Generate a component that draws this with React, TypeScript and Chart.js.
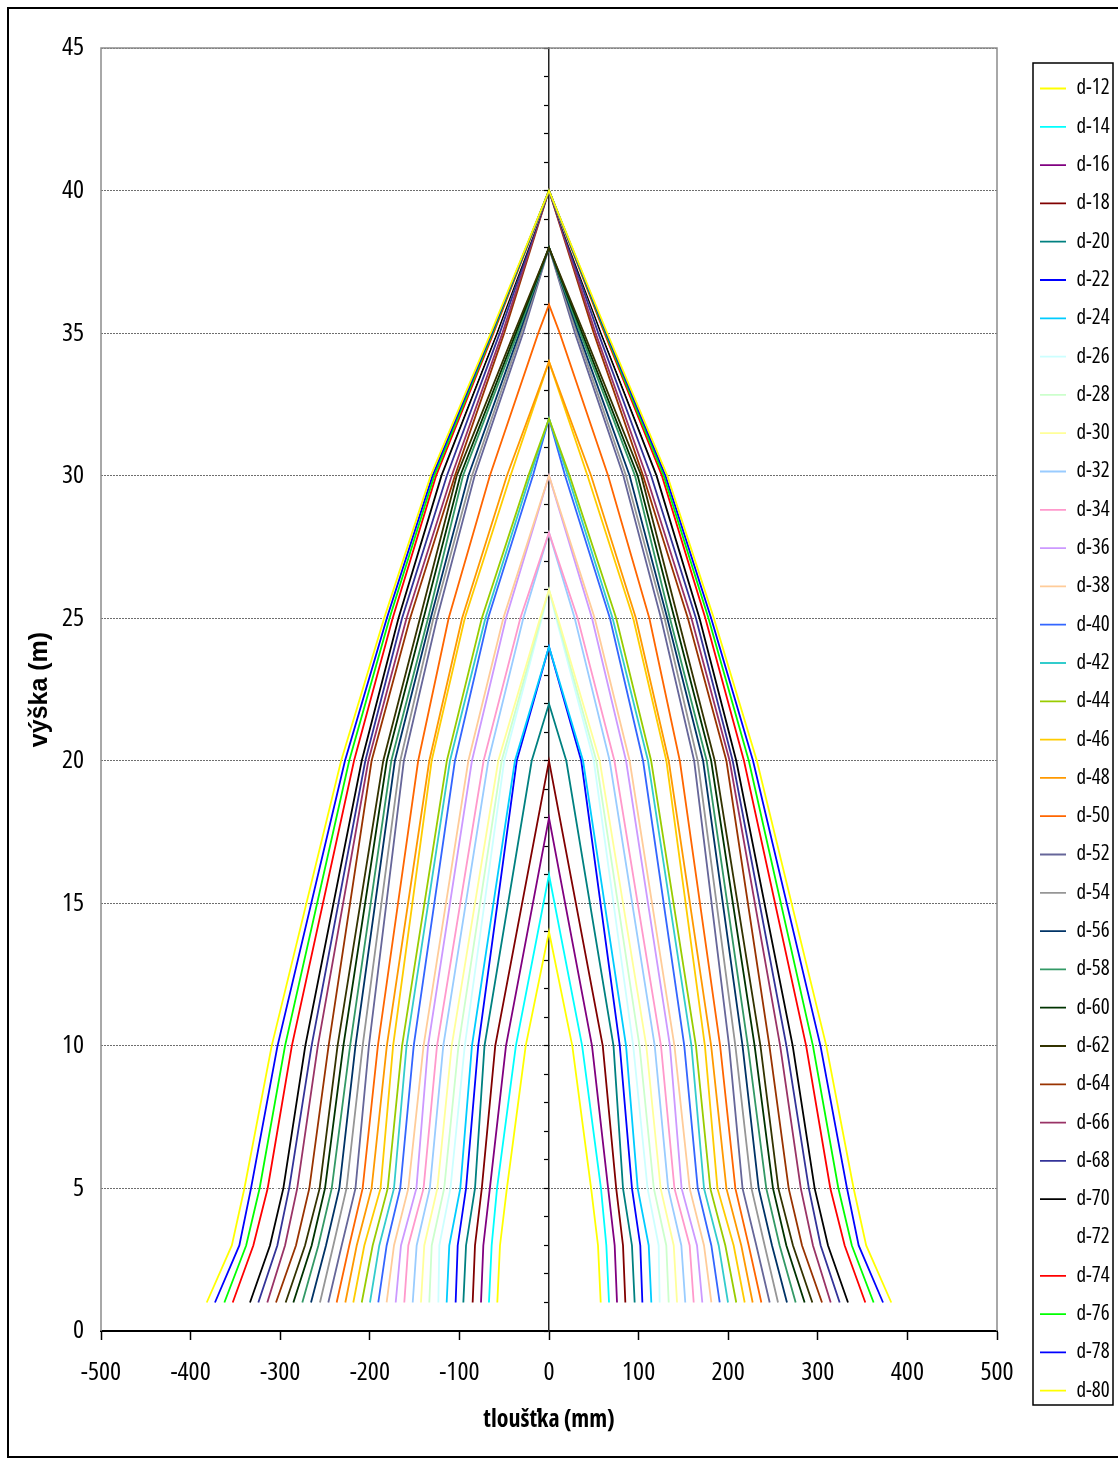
import { useEffect, useRef } from "react";
import { Chart, registerables } from "chart.js";

Chart.register(...registerables);

// Open Sans has a condensed width; "condensed" is passed through the weight slot of the font shorthand
const COND = "'Open Sans', 'DejaVu Sans Condensed', sans-serif";
const BOLD_FAMILY = "'Liberation Sans', Arial, sans-serif";

const SERIES_NAMES = [
  "d-12", "d-14", "d-16", "d-18", "d-20", "d-22", "d-24", "d-26", "d-28", "d-30",
  "d-32", "d-34", "d-36", "d-38", "d-40", "d-42", "d-44", "d-46", "d-48", "d-50",
  "d-52", "d-54", "d-56", "d-58", "d-60", "d-62", "d-64", "d-66", "d-68", "d-70",
  "d-72", "d-74", "d-76", "d-78", "d-80",
];

const SERIES_COLORS = [
  "#FFFF00", "#00FFFF", "#800080", "#800000", "#008080", "#0000FF", "#00CCFF", "#CCFFFF", "#CCFFCC", "#FFFF99",
  "#99CCFF", "#FF99CC", "#CC99FF", "#FFCC99", "#3366FF", "#33CCCC", "#99CC00", "#FFCC00", "#FF9900", "#FF6600",
  "#666699", "#969696", "#003366", "#339966", "#003300", "#333300", "#993300", "#993366", "#333399", "#000000",
  "#FFFFFF", "#FF0000", "#00FF00", "#0000FF", "#FFFF00",
];

// top of each stem (m)
const APEX_HEIGHTS = [
  14, 16, 18, 20, 22, 24, 24, 26, 26, 26,
  28, 28, 30, 30, 32, 32, 32, 34, 34, 36,
  38, 38, 38, 38, 38, 38, 40, 40, 40, 40,
  40, 40, 40, 40, 40,
];

// heights (m) at which the half-thickness was read
const HEIGHTS = [1, 3, 5, 10, 20, 25, 30, 35];

// half-thickness (mm) at HEIGHTS, one row per series
const RADII: (number | null)[][] = [
  [57.7, 54.7, 47, 26, null, null, null, null], // d-12
  [67, 64, 58, 37, null, null, null, null], // d-14
  [75.9, 73.3, 66, 48, null, null, null, null], // d-16
  [85.2, 82.6, 75, 60, null, null, null, null], // d-18
  [95.6, 92.6, 82.6, 72, 19.3, null, null, null], // d-20
  [104.2, 101.9, 92.6, 79, 36, null, null, null], // d-22
  [114.2, 111.3, 99, 86, 38, null, null, null], // d-24
  [123.5, 122.4, 110, 94, 50, 8, null, null], // d-26
  [133.6, 130.9, 117, 101, 52.8, 9, null, null], // d-28
  [142.9, 139.2, 124.6, 108.6, 56.6, 10, null, null], // d-30
  [152.1, 147.7, 133, 118, 67.7, 28.7, null, null], // d-32
  [161.5, 157, 140, 125, 73, 32, null, null], // d-34
  [171.1, 165.2, 148, 135, 86, 48, null, null], // d-36
  [181.2, 173, 157, 140, 90, 51, null, null], // d-38
  [190.5, 181.2, 166, 151, 105, 68, 18, null], // d-40
  [199.8, 189.4, 173, 159, 110.5, 71, 21, null], // d-42
  [209, 196.8, 180, 164, 114, 75, 23, null], // d-44
  [218.4, 206.1, 188, 174, 131, 94, 43, null], // d-46
  [227.3, 214.6, 198, 181, 133.6, 97, 47, null], // d-48
  [237, 222.9, 208, 191, 146, 112, 66, 12], // d-50
  [246.3, 231.4, 216, 201, 162, 125, 83, 29], // d-52
  [255.6, 240.7, 226, 208, 166, 129, 86, 31], // d-54
  [265.6, 248.9, 234, 216, 172, 132, 90, 33], // d-56
  [275.3, 257.4, 242.5, 222, 176, 135, 96, 35], // d-58
  [285.3, 264.9, 250, 229.5, 181, 140, 99, 37], // d-60
  [293.9, 272.3, 256, 236, 185, 144, 103, 39], // d-62
  [304.7, 282.4, 267.5, 246, 198, 155, 105, 50], // d-64
  [314.4, 294.6, 281, 258, 201.6, 159, 108.6, 52], // d-66
  [324.4, 303.2, 290, 265, 205, 164, 114, 55], // d-68
  [333.7, 311.4, 296.5, 272, 209, 168, 120, 58], // d-70
  [343, 320.7, 305, 278, 213, 171, 123, 60], // d-72
  [353, 330, 314, 287, 217.6, 174.5, 126, 62], // d-74
  [362.3, 338, 323, 294.6, 223, 178, 128, 63], // d-76
  [372.8, 345.6, 332.6, 303, 227.7, 181, 130, 64], // d-78
  [382, 354, 340, 309.5, 232, 184, 132, 65], // d-80
];

const X_TITLE = "tloušťka (mm)";
const Y_TITLE = "výška (m)";

const LEGEND_FONT = 21;
const LEGEND_PAD = 17.3;

function profile(radii: (number | null)[], apex: number) {
  const left: { x: number; y: number }[] = [];
  HEIGHTS.forEach((h, i) => {
    const r = radii[i];
    if (r != null && h < apex) left.push({ x: -r, y: h });
  });
  const right = left
    .slice()
    .reverse()
    .map((p) => ({ x: -p.x, y: p.y }));
  return [...left, { x: 0, y: apex }, ...right];
}

const framePlugin = {
  id: "frames",
  afterDraw(chart: any) {
    const { ctx, chartArea: a, legend } = chart;
    ctx.save();
    ctx.strokeStyle = "#8c8c8c";
    ctx.lineWidth = 1.5;
    ctx.beginPath();
    ctx.moveTo(a.left, a.bottom);
    ctx.lineTo(a.left, a.top);
    ctx.lineTo(a.right, a.top);
    ctx.lineTo(a.right, a.bottom);
    ctx.stroke();
    const hb = legend && legend.legendHitBoxes;
    if (hb && hb.length) {
      const first = hb[0];
      const last = hb[hb.length - 1];
      const x0 = first.left - 7;
      const y0 = first.top - 15;
      const x1 = first.left + 73;
      const y1 = last.top + last.height + 3.8;
      ctx.strokeStyle = "#000";
      ctx.lineWidth = 1.5;
      ctx.strokeRect(x0, y0, x1 - x0, y1 - y0);
    }
    ctx.restore();
  },
};

export default function App() {
  const ref = useRef<HTMLCanvasElement>(null);

  useEffect(() => {
    if (!ref.current) return;
    const n = SERIES_NAMES.length;
    const datasets = SERIES_NAMES.map((name, i) => ({
      label: name,
      data: profile(RADII[i], APEX_HEIGHTS[i]),
      borderColor: SERIES_COLORS[i],
      backgroundColor: SERIES_COLORS[i],
      borderWidth: 1.8,
      pointRadius: 0,
      tension: 0,
      fill: false,
      order: n - i,
    }));

    const chart = new Chart(ref.current, {
      type: "line",
      data: { datasets },
      plugins: [framePlugin],
      options: {
        responsive: false,
        animation: false,
        events: [],
        layout: { padding: { left: 0, right: 0, top: 48, bottom: 27.8 } },
        plugins: {
          tooltip: { enabled: false },
          legend: {
            display: true,
            position: "right",
            align: "center",
            maxWidth: 95.3,
            labels: {
              usePointStyle: true,
              pointStyle: "line",
              pointStyleWidth: 26,
              padding: LEGEND_PAD,
              color: "#000",
              font: { family: COND, size: LEGEND_FONT, weight: "condensed" },
              sort: (a: any, b: any) => a.datasetIndex - b.datasetIndex,
            },
          },
        },
        scales: {
          x: {
            type: "linear",
            min: -500,
            max: 500,
            afterFit: (s: any) => {
              s.height = 100.2;
            },
            ticks: {
              stepSize: 100,
              color: "#000",
              padding: 17,
              font: { family: COND, size: 26, weight: "condensed" },
            },
            grid: {
              display: true,
              drawOnChartArea: false,
              drawTicks: true,
              tickLength: 9,
              tickColor: "#000",
              tickWidth: 1.5,
              color: "#000",
            },
            border: { display: true, color: "#000", width: 2 },
            title: {
              display: true,
              text: X_TITLE,
              color: "#000",
              font: { family: COND, size: 24, weight: "bold condensed" },
              padding: { top: 0, bottom: -3.2 },
            },
          },
          y: {
            type: "linear",
            position: "left",
            min: 0,
            max: 45,
            afterFit: (s: any) => {
              s.width = 101;
            },
            ticks: {
              stepSize: 5,
              color: "#000",
              padding: 17,
              font: { family: COND, size: 26, weight: "condensed" },
            },
            grid: {
              display: true,
              drawOnChartArea: true,
              drawTicks: false,
              color: "#6e6e6e",
              lineWidth: 1,
            },
            border: { display: false, dash: [2, 1] },
            title: {
              display: true,
              text: Y_TITLE,
              color: "#000",
              font: { family: BOLD_FAMILY, size: 25, weight: "bold" },
              padding: { top: 25, bottom: 0 },
            },
          },
          yc: {
            type: "linear",
            position: { x: 0 },
            min: 0,
            max: 45,
            ticks: { display: false, stepSize: 1 },
            grid: {
              display: true,
              drawOnChartArea: false,
              drawTicks: true,
              tickLength: 4,
              tickColor: "#000",
              tickWidth: 1.2,
              color: "#000",
            },
            border: { display: true, color: "#222", width: 1.5 },
          },
          y2: {
            type: "linear",
            position: "right",
            display: true,
            afterFit: (s: any) => {
              s.width = 25.7;
            },
            ticks: { display: false },
            grid: { display: false },
            border: { display: false },
          },
        },
      } as any,
    });
    return () => chart.destroy();
  }, []);

  return (
    <>
      <canvas
        ref={ref}
        width={1118}
        height={1459}
        style={{ position: "fixed", left: 0, top: 0, width: 1118, height: 1459 }}
      />
      <div
        style={{
          position: "fixed",
          left: 7,
          top: 7,
          width: 1113,
          height: 1451,
          border: "2px solid #000",
          boxSizing: "border-box",
          pointerEvents: "none",
        }}
      />
    </>
  );
}
